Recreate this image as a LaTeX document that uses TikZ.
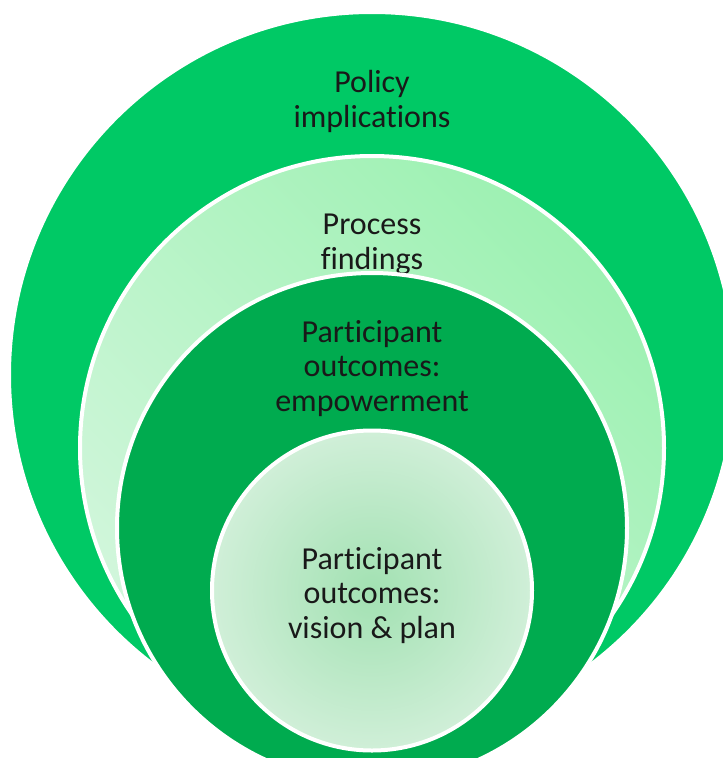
\documentclass[tikz,border=0pt]{standalone}
\usepackage{fontspec}
\setmainfont[Ligatures=NoCommon]{Carlito}
\usepackage{xcolor}
\usetikzlibrary{positioning}
\definecolor{outergreen}{HTML}{00C965}
\definecolor{darkgreen}{HTML}{00AB4F}
\definecolor{palegreen}{HTML}{D2F6DC}
\definecolor{mintgreen}{HTML}{9DF1B2}
\definecolor{innermid}{HTML}{A2E1B2}
\definecolor{inneredge}{HTML}{D0EFD8}

\begin{document}
\begin{tikzpicture}[
  x=1pt, y=-1pt,
  ring/.style={draw=white, line width=4pt},
  label/.style={align=center, anchor=base, font=\fontsize{32}{34.5}\selectfont, text=black!90}
]
  \useasboundingbox (0,0) rectangle (723,758);
  \clip (0,0) rectangle (723,758);

  % centres of the four circles
  \coordinate (outerC) at (372,375);
  \coordinate (procC) at (372,448);
  \coordinate (empC) at (372,528);
  \coordinate (visC) at (372,590.5);

  % outer ring
  \fill[outergreen, ring] (outerC) circle [radius=363pt];
  \node[label] (policy) at (372,127) {Policy\\implications};

  % process ring, its last line runs under the next ring
  \shadedraw[ring, shading=axis, top color=mintgreen, bottom color=palegreen, shading angle=-45]
    (procC) circle [radius=292pt];
  \node[label] (process) at (372,269) {Process\\findings};

  % empowerment ring
  \fill[darkgreen, ring] (empC) circle [radius=255pt];
  \node[label] (empower) at (372,411) {Participant\\outcomes:\\empowerment};

  % inner circle
  \shadedraw[ring, inner color=innermid, outer color=inneredge] (visC) circle [radius=160pt];
  \node[label] (vision) at (372,638) {Participant\\outcomes:\\vision \& plan};
\end{tikzpicture}
\end{document}
